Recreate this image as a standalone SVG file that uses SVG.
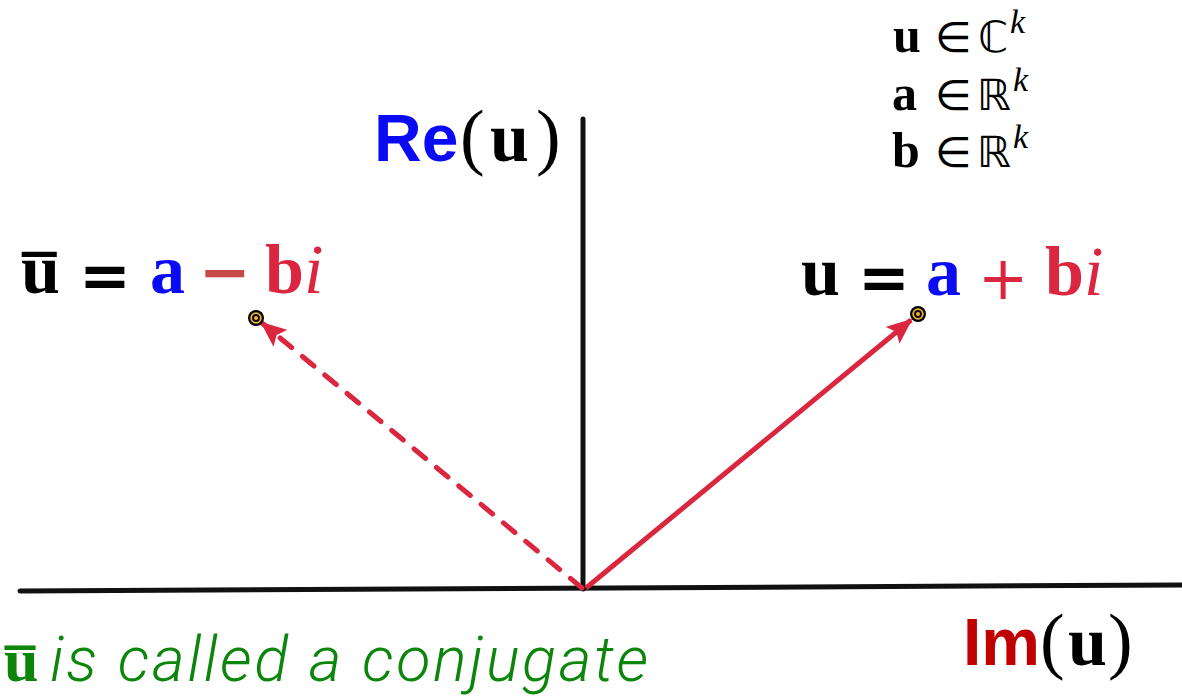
<svg xmlns="http://www.w3.org/2000/svg" width="1182" height="696" viewBox="0 0 1182 696">
<style>
.ser{font-family:"Liberation Serif","DejaVu Serif",serif;font-weight:bold}
.par{font-family:"Liberation Serif","DejaVu Serif",serif;font-weight:normal}
.op{font-family:"DejaVu Sans","Liberation Sans",sans-serif;font-weight:bold}
.opn{font-family:"DejaVu Sans","Liberation Sans",sans-serif;font-weight:normal}
.dbl{font-family:"DejaVu Sans",sans-serif;font-weight:normal}
.sans{font-family:"Liberation Sans",Arial,sans-serif;font-weight:bold}
.blk{fill:#000}
.blue{fill:#0a0af5}
.crim{fill:#db2640}
.minus{fill:#c94848}
.ital{font-style:italic;font-weight:normal}
.axis{stroke:#111;stroke-width:5;stroke-linecap:round;fill:none}
.vec{stroke:#db2640;stroke-width:5;fill:none}
.green{fill:#0b860b}
</style>
<defs>
<marker id="ah" viewBox="0 0 26 22" refX="24" refY="11" markerWidth="26" markerHeight="22" markerUnits="userSpaceOnUse" orient="auto">
<path d="M0,0 L26,11 L0,22 L5,11 Z" fill="#db2640"/>
</marker>
<g id="dotsym">
<circle r="8" fill="#000"/>
<circle r="4.8" fill="none" stroke="#f3b52e" stroke-width="1.8"/>
<circle r="2" fill="#f3b52e"/>
</g>
</defs>
<g id="axes">
<line class="axis" x1="20" y1="591" x2="1184" y2="585"/>
<line class="axis" x1="583" y1="119" x2="583" y2="589"/>
</g>
<g id="connectors">
<line class="vec" x1="586" y1="588" x2="911" y2="320" marker-end="url(#ah)"/>
<line class="vec" x1="582" y1="588" x2="262" y2="323" stroke-dasharray="15 14" stroke-linecap="round" marker-end="url(#ah)"/>
</g>
<g id="dot-u"><use href="#dotsym" x="918" y="314"/></g>
<g id="dot-ubar"><use href="#dotsym" x="256" y="318"/></g>
<g id="label-re">
<text y="161"><tspan class="sans blue" font-size="66" x="374">Re</tspan><tspan class="par blk" font-size="74" x="460">(</tspan><tspan class="ser blk" font-size="70" x="490">u</tspan><tspan class="par blk" font-size="74" x="536">)</tspan></text>
</g>
<g id="label-im">
<text y="665"><tspan class="sans" fill="#c00000" font-size="66" x="963">Im</tspan><tspan class="par blk" font-size="74" x="1040">(</tspan><tspan class="ser blk" font-size="70" x="1068">u</tspan><tspan class="par blk" font-size="74" x="1108">)</tspan></text>
</g>
<g id="sets">
<text font-size="50" y="52"><tspan class="ser" x="893">u</tspan><tspan class="dbl" font-size="42" x="935">∈</tspan><tspan class="dbl" font-size="43" x="978">ℂ</tspan><tspan class="ser ital" x="1010" dy="-19" font-size="34">k</tspan></text>
<text font-size="50" y="110"><tspan class="ser" x="892">a</tspan><tspan class="dbl" font-size="42" x="935">∈</tspan><tspan class="dbl" font-size="43" x="977">ℝ</tspan><tspan class="ser ital" x="1013" dy="-19" font-size="34">k</tspan></text>
<text font-size="50" y="167"><tspan class="ser" x="892">b</tspan><tspan class="dbl" font-size="42" x="935">∈</tspan><tspan class="dbl" font-size="43" x="977">ℝ</tspan><tspan class="ser ital" x="1013" dy="-19" font-size="34">k</tspan></text>
</g>
<g id="label-ubar">
<text font-size="70" y="293"><tspan class="ser blk" x="21">u̅</tspan><tspan class="op blk" font-size="62" x="79" y="297">=</tspan><tspan class="ser blue" x="150" y="293">a</tspan><tspan class="op minus" font-size="62" x="199" y="293">−</tspan><tspan class="ser crim" x="265" y="293">b</tspan><tspan class="ser crim ital" x="304" y="293">i</tspan></text>
</g>
<g id="label-u">
<text font-size="70" y="295"><tspan class="ser blk" x="801">u</tspan><tspan class="op blk" font-size="62" x="858" y="299">=</tspan><tspan class="ser blue" x="926" y="295">a</tspan><tspan class="opn crim" font-size="60" x="978" y="299">+</tspan><tspan class="ser crim" x="1045" y="295">b</tspan><tspan class="ser crim ital" x="1084" y="295">i</tspan></text>
</g>
<g id="note">
<text y="681" class="green"><tspan class="ser" font-size="62" x="4">u̅</tspan><tspan x="50" font-family="Roboto, 'Liberation Sans', sans-serif" font-weight="300" font-style="italic" font-size="63" textLength="598" lengthAdjust="spacing">is called a conjugate</tspan></text>
</g>
</svg>
